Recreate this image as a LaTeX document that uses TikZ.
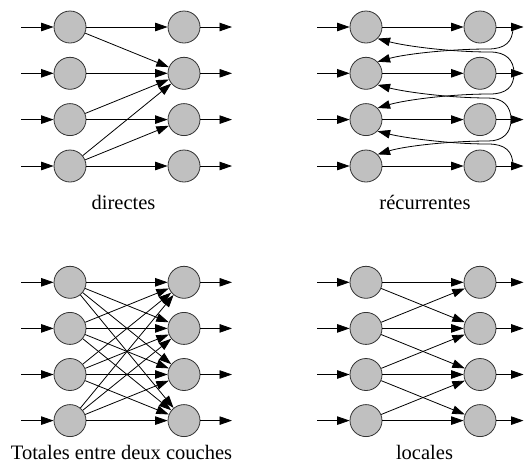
\documentclass[tikz,border=0pt]{standalone}
\usepackage{fontspec}
\setmainfont{Liberation Serif}
\usetikzlibrary{arrows.meta}
\definecolor{neurgray}{RGB}{192,192,192}
\begin{document}
\begin{tikzpicture}[x=1pt,y=-1pt,
  neuron/.style={circle,draw=black!80,fill=neurgray,line width=0.8pt,minimum size=32pt,inner sep=0pt},
  conn/.style={line width=0.8pt,-{Triangle[length=12.5pt,width=8.5pt]}},
  lab/.style={anchor=base,inner sep=0pt,font=\fontsize{20.5}{24}\selectfont}]
\useasboundingbox (0,0) rectangle (524,464);

% ---------- directes ----------
\foreach \i/\y in {1/27,2/73.3,3/119.6,4/166} {
  \node[neuron] (a\i) at (70,\y) {};
  \node[neuron] (b\i) at (184,\y) {};
  \coordinate (ain\i) at (21,\y);
  \coordinate (bout\i) at (232,\y);
  \draw[conn] (ain\i) -- (a\i);
  \draw[conn] (a\i) -- (b\i);
  \draw[conn] (b\i) -- (bout\i);
}
\draw[conn] (a1) -- (b2);
\draw[conn] (a3) -- (b2);
\draw[conn] (a4) -- (b2);
\draw[conn] (a4) -- (b3);
\node[lab] (l1) at (123.5,209) {directes};

% ---------- recurrentes ----------
\foreach \i/\y in {1/27,2/73.3,3/119.6,4/166} {
  \node[neuron] (c\i) at (366,\y) {};
  \node[neuron] (d\i) at (480,\y) {};
  \coordinate (cin\i) at (317,\y);
  \coordinate (dout\i) at (523.5,\y);
  \draw[conn] (cin\i) -- (c\i);
  \draw[conn] (c\i) -- (d\i);
  \draw[conn] (d\i) -- (dout\i);
}
\coordinate (s1) at (513,27);
\coordinate (s2) at (514,73.3);
\coordinate (s3) at (511,119.6);
\coordinate (s4) at (513,166);
\draw[conn] (s1) .. controls (513,42) and (505,49) .. (488,49)
  .. controls (450,49) and (405,54) .. (c2.45);
\draw[conn] (s2) .. controls (514,60) and (506,52) .. (490,52)
  .. controls (450,52) and (405,46) .. (c1.-45);
\draw[conn] (s2) .. controls (514,87) and (506,94) .. (490,94)
  .. controls (450,94) and (405,100) .. (c3.45);
\draw[conn] (s3) .. controls (511,106) and (503,98) .. (488,98)
  .. controls (450,98) and (405,92) .. (c2.-45);
\draw[conn] (s3) .. controls (511,133) and (503,141) .. (488,141)
  .. controls (450,141) and (405,146) .. (c4.45);
\draw[conn] (s4) .. controls (513,151) and (505,144) .. (488,144)
  .. controls (450,144) and (405,138) .. (c3.-45);
\node[lab] (l2) at (425,209) {récurrentes};

% ---------- totales ----------
\foreach \i/\y in {1/282.3,2/328.4,3/374.5,4/420.6} {
  \node[neuron] (e\i) at (70,\y) {};
  \node[neuron] (f\i) at (184,\y) {};
  \coordinate (ein\i) at (21,\y);
  \coordinate (fout\i) at (232,\y);
  \draw[conn] (ein\i) -- (e\i);
  \draw[conn] (f\i) -- (fout\i);
}
\foreach \i in {1,2,3,4} {
  \foreach \j in {1,2,3,4} {
    \draw[conn] (e\i) -- (f\j);
  }
}
\node[lab] (l3) at (121.5,459) {Totales entre deux couches};

% ---------- locales ----------
\foreach \i/\y in {1/282.3,2/328.4,3/374.5,4/420.6} {
  \node[neuron] (g\i) at (366,\y) {};
  \node[neuron] (h\i) at (480,\y) {};
  \coordinate (gin\i) at (317,\y);
  \coordinate (hout\i) at (523.5,\y);
  \draw[conn] (gin\i) -- (g\i);
  \draw[conn] (g\i) -- (h\i);
  \draw[conn] (h\i) -- (hout\i);
}
\draw[conn] (g1) -- (h2);
\draw[conn] (g2) -- (h1);
\draw[conn] (g2) -- (h3);
\draw[conn] (g3) -- (h2);
\draw[conn] (g3) -- (h4);
\draw[conn] (g4) -- (h3);
\node[lab] (l4) at (424.5,459) {locales};
\end{tikzpicture}
\end{document}
